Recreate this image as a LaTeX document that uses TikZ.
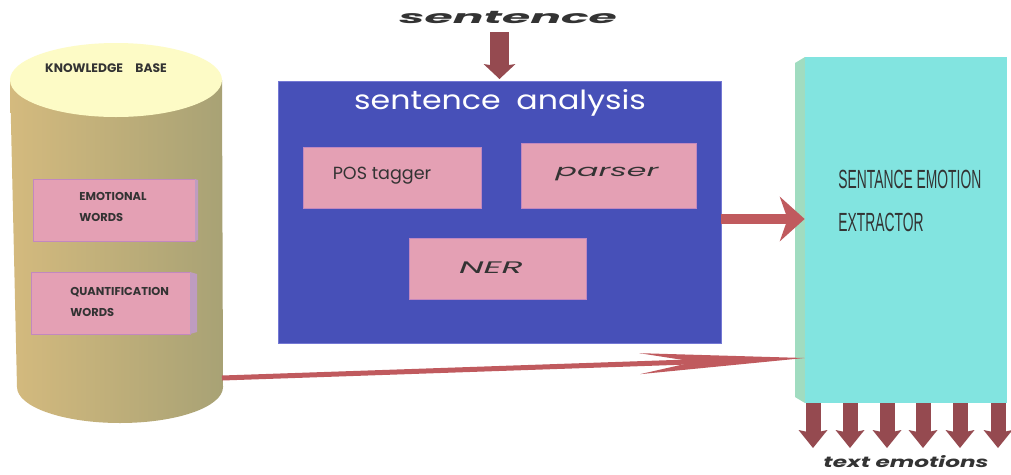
\documentclass[tikz,border=0pt]{standalone}
\usepackage{fontspec}
\usetikzlibrary{arrows.meta,fit}
\newfontfamily\hand{Poppins}
\newfontfamily\cond[FakeStretch=0.7]{Liberation Sans}
\definecolor{kbtop}{HTML}{FDFBC6}
\definecolor{cylL}{HTML}{D4BA7E}
\definecolor{cylM}{HTML}{C6B987}
\definecolor{cylR}{HTML}{A8A275}
\definecolor{pinkbox}{HTML}{E4A0B4}
\definecolor{pinkside}{HTML}{BE9CC0}
\definecolor{saBlue}{HTML}{4750B8}
\definecolor{saEdge}{HTML}{7478D4}
\definecolor{cyanbox}{HTML}{82E4E0}
\definecolor{greenside}{HTML}{A0DCC0}
\definecolor{arrowred}{HTML}{C05A5E}
\definecolor{arrowdark}{HTML}{954A50}
\definecolor{ink}{HTML}{333333}
\begin{document}
\begin{tikzpicture}[x=0.02cm,y=-0.02cm,
  pinkrect/.style={fill=pinkbox,draw=pinkbox!85!blue,line width=0.3pt,inner sep=0pt},
  kbtext/.style={text=ink,font=\hand\bfseries\fontsize{6.5}{12}\selectfont,align=left,inner sep=0pt},
  boxtext/.style={text=ink,font=\hand\fontsize{10}{11}\selectfont,inner sep=0pt},
  redarrow/.style={draw=arrowred,fill=arrowred},
  downarrow/.style={draw=arrowdark,fill=arrowdark,line width=0.3cm,
    -{Stealth[length=0.36cm,width=0.58cm,inset=0.06cm,line width=0pt]}}]
\useasboundingbox[fill=white] (0,0) rectangle (1011,474);
% knowledge base cylinder
\path[left color=cylL,middle color=cylM,right color=cylR]
  (10,80) -- (17,387) arc[start angle=180,end angle=0,x radius=103,y radius=36] -- (222,80) -- cycle;
\fill[kbtop] (116,80) ellipse[x radius=106,y radius=37];
\node[kbtext,font=\hand\bfseries\fontsize{7}{12}\selectfont] (kbt) at (106,68) {KNOWLEDGE\enspace\enspace BASE};
\node[pinkrect,fit={(33,179)(195,241)}] (ew) {};
\fill[pinkside] (195,179) -- (198,180) -- (198,240) -- (195,241) -- cycle;
\node[kbtext,anchor=west] (ewt) at (79,207) {EMOTIONAL\\WORDS};
\node[pinkrect,fit={(31,272)(190,334)}] (qw) {};
\fill[pinkside] (190,272) -- (197,274) -- (197,332) -- (190,334) -- cycle;
\node[kbtext,anchor=west] (qwt) at (70,302) {QUANTIFICATION\\WORDS};
\coordinate (kbR) at (222,378);
% sentence analysis
\node[fill=saBlue,draw=saEdge,line width=0.4pt,inner sep=0pt,fit={(278,81)(721,343)}] (sa) {};
\node[text=white,font=\hand\fontsize{15}{17}\selectfont,inner sep=0pt] (sat) at (500,103) {\scalebox{1.2}[1]{sentence\enspace analysis}};
\node[pinkrect,fit={(303,147)(481,208)}] (pos) {};
\node[boxtext] (post) at (382,176) {POS tagger};
\node[pinkrect,fit={(521,143)(696,208)}] (par) {};
\node[boxtext,font=\hand\fontsize{9.5}{11}\selectfont] (part) at (607,174) {\scalebox{1.9}[1]{\itshape parser}};
\node[pinkrect,fit={(409,238)(586,299)}] (ner) {};
\node[boxtext,font=\hand\fontsize{9.5}{11}\selectfont] (nert) at (491,268) {\scalebox{2.1}[1]{\itshape NER}};
% sentence input
\node[text=ink,font=\hand\bfseries\fontsize{10}{12}\selectfont,inner sep=0pt] (sent) at (508,17) {\scalebox{2.6}[1]{\itshape sentence}};
\draw[draw=arrowdark,fill=arrowdark,line width=0.38cm,-{Stealth[length=0.3cm,width=0.64cm,inset=0.05cm,line width=0pt]}]
  (sa.north |- 0,32) -- (sa.north |- 0,79);
% extractor
\fill[greenside] (795,63) -- (805,57) -- (805,403) -- (795,397) -- cycle;
\node[fill=cyanbox,inner sep=0pt,fit={(805,57)(1007,403)}] (see) {};
\node[text=ink,font=\cond\fontsize{11.5}{24}\selectfont,align=left,anchor=west,inner sep=0pt] (seet) at (838,201) {\scalebox{0.98}[1.3]{SENTANCE EMOTION}\\\scalebox{0.98}[1.3]{EXTRACTOR}};
% arrows into extractor
\draw[redarrow,line width=0.2cm,-{Stealth[length=0.5cm,width=0.9cm,inset=0.16cm,line width=0pt]}]
  (sa.east |- 0,219) -- (see.west |- 0,219);
\draw[redarrow,line width=0.1cm,-{Stealth[length=3.3cm,width=0.42cm,inset=1.1cm,line width=0pt]}]
  (kbR) -- (see.west |- 0,358);
% outputs
\foreach \x [count=\i] in {813,850,887,923,960,998}{
  \coordinate (d\i) at (\x,448);
  \draw[downarrow] (see.south -| d\i) -- (d\i);
}
\node[text=ink,font=\hand\bfseries\fontsize{8.5}{10}\selectfont,inner sep=0pt] (te) at (906,462) {\scalebox{1.55}[1]{\itshape text emotions}};
\end{tikzpicture}
\end{document}
